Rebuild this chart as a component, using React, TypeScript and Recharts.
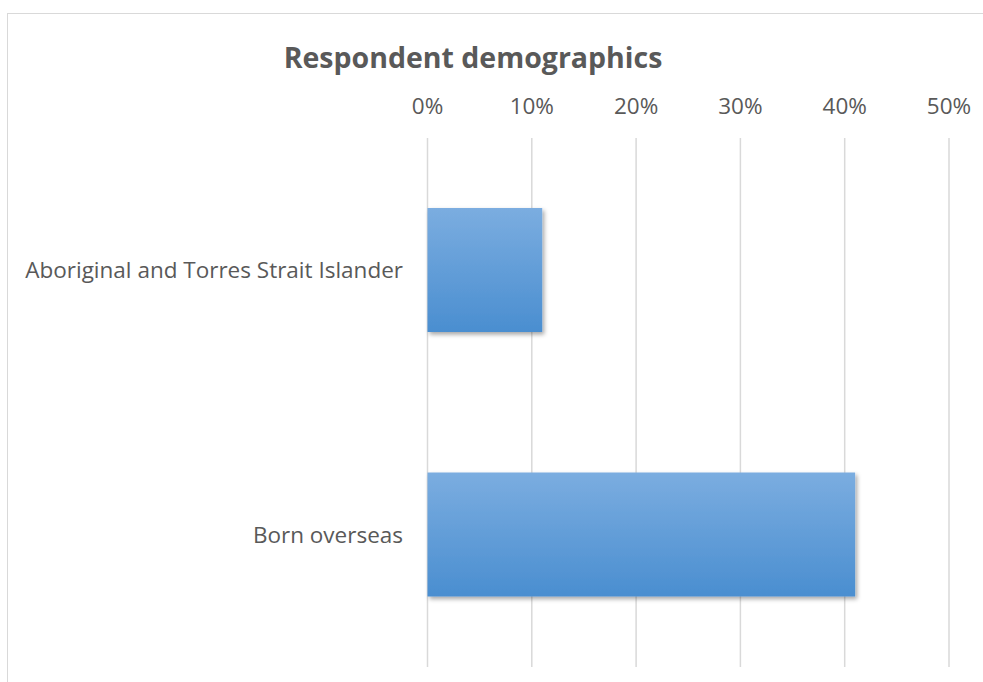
import React from "react";
import { BarChart, Bar, XAxis, YAxis, CartesianGrid } from "recharts";

const categories = ["Aboriginal and Torres Strait Islander", "Born overseas"];
const shares = [0.11, 0.41];
const tickValues = [0, 0.1, 0.2, 0.3, 0.4, 0.5];
const title = "Respondent demographics";

const data = categories.map((name, i) => ({ name, value: shares[i] }));

const FONT = "'Open Sans', sans-serif";
const GREY = "#595959";

export default function App() {
  return (
    <div
      style={{
        position: "absolute",
        left: 0,
        top: 0,
        width: 983,
        height: 682,
        overflow: "hidden",
        background: "#fff",
        fontFamily: FONT,
      }}
    >
      <div
        style={{
          position: "absolute",
          left: 7,
          top: 13,
          width: 1100,
          height: 800,
          border: "1.5px solid #d9d9d9",
          boxSizing: "border-box",
        }}
      />
      <div
        style={{
          position: "absolute",
          left: 173,
          width: 600,
          top: 40,
          textAlign: "center",
          fontSize: 28.5,
          fontWeight: 700,
          color: GREY,
          lineHeight: "34px",
          whiteSpace: "nowrap",
        }}
      >
        {title}
      </div>
      <div style={{ position: "absolute", left: 0, top: 0 }}>
        <BarChart
          width={983}
          height={682}
          data={data}
          layout="vertical"
          margin={{ top: 80, right: 34, bottom: 15, left: 0 }}
          barCategoryGap="26.5%"
        >
          <defs>
            <linearGradient id="barGrad" x1="0" y1="0" x2="0" y2="1">
              <stop offset="0%" stopColor="#7badE0" />
              <stop offset="100%" stopColor="#4a8ed0" />
            </linearGradient>
            <filter id="barShadow" x="-10%" y="-10%" width="130%" height="130%">
              <feDropShadow dx="2" dy="2.5" stdDeviation="2" floodColor="#000" floodOpacity="0.35" />
            </filter>
          </defs>
          <CartesianGrid horizontal={false} vertical={true} stroke="#d9d9d9" strokeWidth={1.5} />
          <XAxis
            type="number"
            orientation="top"
            domain={[0, 0.5]}
            ticks={tickValues}
            tickFormatter={(v: number) => `${Math.round(v * 100)}%`}
            axisLine={false}
            tickLine={false}
            height={58}
            tickMargin={18}
            tick={{ fill: GREY, fontSize: 22.5, fontFamily: FONT }}
            interval={0}
          />
          <YAxis
            type="category"
            dataKey="name"
            width={427.5}
            axisLine={false}
            tickLine={false}
            tickMargin={18.5}
            tick={{ fill: GREY, fontSize: 22.5, fontFamily: FONT }}
            interval={0}
          />
          <Bar
            dataKey="value"
            fill="url(#barGrad)"
            filter="url(#barShadow)"
            isAnimationActive={false}
          />
        </BarChart>
      </div>
    </div>
  );
}
